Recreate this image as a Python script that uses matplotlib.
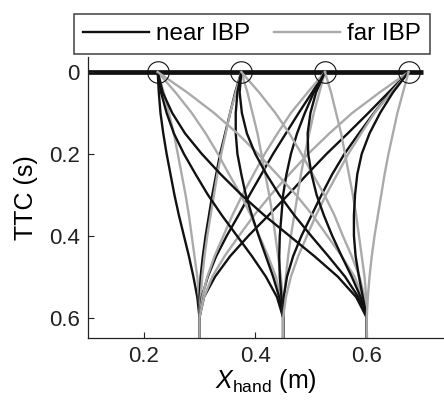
import matplotlib
matplotlib.use("Agg")
import matplotlib.pyplot as plt

plt.rcParams['font.family'] = ['Liberation Sans', 'DejaVu Sans']
plt.rcParams['mathtext.fontset'] = 'custom'
plt.rcParams['mathtext.rm'] = 'Liberation Sans'
plt.rcParams['mathtext.it'] = 'Liberation Sans:italic'

# time-to-contact levels (s) at which hand positions were read
ttc = [0.65, 0.6, 0.55, 0.5, 0.45, 0.4, 0.35, 0.3, 0.25, 0.2, 0.15, 0.1, 0.05, 0.0]

# arrival positions (circles) and hand start positions
targets = [0.225, 0.375, 0.525, 0.675]
starts = [0.3, 0.45, 0.6]

# hand position (m), near IBP, one row per start/target pair
near_x = [
    [0.3, 0.3, 0.296, 0.289, 0.281, 0.272, 0.263, 0.255, 0.248, 0.241, 0.235, 0.23, 0.227, 0.225],
    [0.3, 0.3, 0.3, 0.302, 0.306, 0.311, 0.317, 0.323, 0.33, 0.337, 0.346, 0.355, 0.364, 0.375],
    [0.3, 0.3, 0.304, 0.315, 0.33, 0.349, 0.37, 0.39, 0.411, 0.432, 0.455, 0.478, 0.502, 0.525],
    [0.3, 0.3, 0.308, 0.328, 0.355, 0.388, 0.424, 0.459, 0.493, 0.528, 0.566, 0.603, 0.639, 0.675],
    [0.45, 0.45, 0.439, 0.419, 0.394, 0.367, 0.34, 0.315, 0.293, 0.272, 0.254, 0.241, 0.231, 0.225],
    [0.45, 0.45, 0.443, 0.432, 0.419, 0.406, 0.394, 0.383, 0.375, 0.368, 0.365, 0.365, 0.368, 0.375],
    [0.45, 0.45, 0.447, 0.444, 0.443, 0.444, 0.447, 0.45, 0.456, 0.464, 0.475, 0.489, 0.505, 0.525],
    [0.45, 0.45, 0.451, 0.457, 0.468, 0.483, 0.501, 0.519, 0.538, 0.56, 0.586, 0.613, 0.643, 0.675],
    [0.6, 0.6, 0.581, 0.548, 0.506, 0.461, 0.416, 0.375, 0.338, 0.304, 0.274, 0.251, 0.234, 0.225],
    [0.6, 0.6, 0.585, 0.561, 0.531, 0.5, 0.47, 0.443, 0.42, 0.4, 0.385, 0.376, 0.372, 0.375],
    [0.6, 0.6, 0.589, 0.573, 0.555, 0.538, 0.523, 0.51, 0.501, 0.495, 0.494, 0.499, 0.509, 0.525],
    [0.6, 0.6, 0.593, 0.586, 0.58, 0.577, 0.577, 0.579, 0.583, 0.591, 0.605, 0.624, 0.647, 0.675],
]

# hand position (m), far IBP, one row per start/target pair
far_x = [
    [0.3, 0.3, 0.299, 0.296, 0.291, 0.286, 0.281, 0.275, 0.268, 0.261, 0.254, 0.245, 0.236, 0.225],
    [0.3, 0.3, 0.302, 0.305, 0.309, 0.314, 0.32, 0.326, 0.332, 0.339, 0.347, 0.355, 0.365, 0.375],
    [0.3, 0.3, 0.305, 0.314, 0.327, 0.343, 0.359, 0.377, 0.397, 0.417, 0.44, 0.464, 0.494, 0.525],
    [0.3, 0.3, 0.308, 0.323, 0.345, 0.371, 0.398, 0.428, 0.461, 0.495, 0.533, 0.574, 0.623, 0.675],
    [0.45, 0.45, 0.446, 0.437, 0.423, 0.407, 0.392, 0.374, 0.353, 0.333, 0.311, 0.286, 0.257, 0.225],
    [0.45, 0.45, 0.449, 0.446, 0.441, 0.436, 0.431, 0.425, 0.418, 0.411, 0.404, 0.395, 0.386, 0.375],
    [0.45, 0.45, 0.452, 0.455, 0.459, 0.464, 0.47, 0.476, 0.482, 0.489, 0.497, 0.505, 0.515, 0.525],
    [0.45, 0.45, 0.455, 0.464, 0.477, 0.493, 0.509, 0.527, 0.547, 0.567, 0.59, 0.614, 0.644, 0.675],
    [0.6, 0.6, 0.593, 0.578, 0.555, 0.529, 0.503, 0.473, 0.439, 0.405, 0.368, 0.326, 0.278, 0.225],
    [0.6, 0.6, 0.596, 0.587, 0.573, 0.557, 0.542, 0.524, 0.503, 0.483, 0.461, 0.436, 0.407, 0.375],
    [0.6, 0.6, 0.599, 0.596, 0.591, 0.586, 0.581, 0.575, 0.568, 0.561, 0.554, 0.545, 0.536, 0.525],
    [0.6, 0.6, 0.602, 0.605, 0.609, 0.614, 0.62, 0.626, 0.632, 0.639, 0.647, 0.655, 0.665, 0.675],
]

fig = plt.figure(figsize=(4.44, 4.07), dpi=100)
ax = fig.add_axes([88/444, 69/407, 356/444, 281/407])

black = '#111111'
grey = '#aaaaaa'

# interception axis
ax.plot([0.1, 0.7], [0, 0], color=black, lw=3.4, solid_capstyle='butt', zorder=1)

for i in range(len(near_x)):
    ln_near, = ax.plot(near_x[i], ttc, color=black, lw=1.7, zorder=2)
    ln_far, = ax.plot(far_x[i], ttc, color=grey, lw=1.7, zorder=2)

ax.plot(targets, [0]*len(targets), 'o', ms=15.5, mfc='none', mec=black, mew=0.8, zorder=3)

ax.set_xlim(0.1, 0.1 + 356/557.5)
ax.set_ylim(0.65, -0.0366)
ax.set_xticks([0.2, 0.4, 0.6])
ax.set_yticks([0, 0.2, 0.4, 0.6])
ax.set_xticklabels(['0.2', '0.4', '0.6'])
ax.set_yticklabels(['0', '0.2', '0.4', '0.6'])
ax.tick_params(direction='in', length=4, width=0.8, labelsize=16, pad=6, colors='#222222')
for s in ['top', 'right']:
    ax.spines[s].set_visible(False)
for s in ['left', 'bottom']:
    ax.spines[s].set_linewidth(0.9)
    ax.spines[s].set_color('#222222')

ax.set_ylabel('TTC (s)', fontsize=18, labelpad=8)
ax.set_xlabel(r'$X_{\mathrm{hand}}$ (m)', fontsize=18, labelpad=0)

leg = fig.legend([ln_near, ln_far], ['near IBP', 'far IBP'], ncol=2,
                 loc='center', bbox_to_anchor=(252/444, 1 - 34/407),
                 fontsize=17.5, frameon=True, fancybox=False, handlelength=2.7,
                 columnspacing=1.0, handletextpad=0.3, borderpad=0.35)
leg.get_frame().set_edgecolor(black)
leg.get_frame().set_linewidth(1.1)
for l in leg.get_lines():
    l.set_linewidth(1.7)

fig.savefig('out.png', dpi=100)
